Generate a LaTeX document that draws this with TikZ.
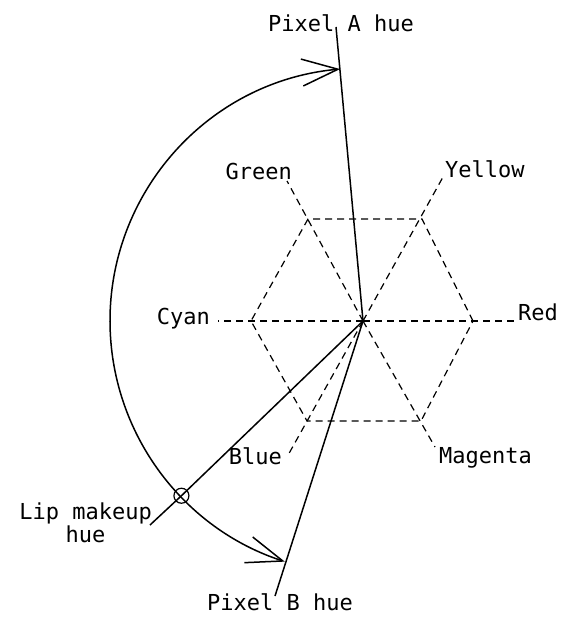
\documentclass[tikz,border=0pt]{standalone}
\usepackage{fontspec}
\setmonofont{DejaVu Sans Mono}
\usepackage{tikz}
\usetikzlibrary{arrows.meta,calc}
\tikzset{
  hueline/.style={line width=1.5pt},
  wheel/.style={line width=1.2pt,dash pattern=on 7pt off 5pt},
  lbl/.style={inner sep=0pt,font=\ttfamily\fontsize{22}{23}\selectfont},
  barb/.style={{Straight Barb[length=36pt,width=27pt]}-{Straight Barb[length=36pt,width=27pt]}}
}

\begin{document}
\begin{tikzpicture}[x=1pt,y=1pt]
    \useasboundingbox (0,0) rectangle (566,-617);
    \coordinate (o) at (363,-321);
    % hexagon corners
    \foreach \n/\x/\y in {hR/473/321,hY/422/219,hG/308/219,hC/251/321,hB/307/421,hM/421/421}
      \coordinate (\n) at (\x,-\y);
    \draw[wheel] (hR) -- (hY) -- (hG) -- (hC) -- (hB) -- (hM) -- cycle;
    % colour names at the spoke ends
    \node[lbl,anchor=base east] (green) at (292,-180) {Green};
    \node[lbl,anchor=base west] (yellow) at (445,-178) {Yellow};
    \node[lbl,anchor=base west] (red) at (518,-320) {Red};
    \node[lbl,anchor=base east] (cyan) at (210,-324) {Cyan};
    \node[lbl,anchor=base east] (blue) at (282,-464) {Blue};
    \node[lbl,anchor=base west] (magenta) at (439,-463) {Magenta};
    \foreach \n/\x/\y in {gEnd/287/181,yEnd/443/177,rEnd/517/321,cEnd/218/321,bEnd/287/457,mEnd/435/447}
      \coordinate (\n) at (\x,-\y);
    \foreach \n in {gEnd,yEnd,rEnd,cEnd,bEnd,mEnd} \draw[wheel] (o) -- (\n);
    % pixel hues
    \node[lbl] (pixA) at (341,-23) {Pixel A hue};
    \node[lbl] (pixB) at (280,-602) {Pixel B hue};
    \coordinate (aEnd) at (336,-27);
    \coordinate (bEnd2) at (275,-596);
    \draw[hueline] (o) -- (aEnd);
    \draw[hueline] (o) -- (bEnd2);
    % lip makeup hue
    \node[draw,circle,line width=1.2pt,minimum size=15pt,inner sep=0pt] (lip) at ($(o)+(223.9:252)$) {};
    \node[lbl,align=center,anchor=north east] (lipl) at (152,-503) {Lip makeup\\hue};
    \coordinate (lipEnd) at (150,-525);
    \draw[hueline] (o) -- (lip.center) -- (lipEnd);
    \coordinate (aTip) at ($(o)+(95.2:253)$);
    \draw[hueline,barb] (aTip) arc[start angle=95.2,end angle=252,radius=253];
\end{tikzpicture}
\end{document}
